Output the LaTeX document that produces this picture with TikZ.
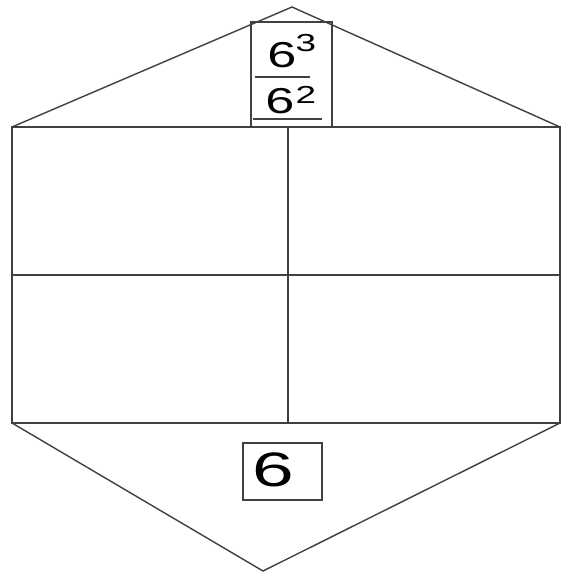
\documentclass[tikz,border=0pt]{standalone}
\usepackage{fontspec}
\setmainfont{Liberation Sans}
\begin{document}
\begin{tikzpicture}[x=0.02cm,y=-0.02cm,
  ln/.style={draw=black!75,line width=0.8pt},
  dig/.style={inner sep=0pt,font=\fontsize{20.5}{20.5}\selectfont},
  sup/.style={inner sep=0pt,font=\fontsize{14}{14}\selectfont},
  big/.style={inner sep=0pt,font=\fontsize{27.5}{27.5}\selectfont}]
\useasboundingbox (0,0) rectangle (571,575);
% outline
\coordinate (tl) at (12,127);
\coordinate (tr) at (560,127);
\coordinate (bl) at (12,423);
\coordinate (br) at (560,423);
\coordinate (top) at (292,7);
\coordinate (bot) at (263,571);
\coordinate (mt) at (288,127);
\coordinate (mb) at (288,423);
\coordinate (ml) at (12,275);
\coordinate (mr) at (560,275);
\draw[ln] (tl) -- (top) -- (tr);
\draw[ln] (bl) -- (bot) -- (br);
\draw[ln] (tl) rectangle (br);
\draw[ln] (mt) -- (mb);
\draw[ln] (ml) -- (mr);
% top box
\coordinate (b1) at (251,22);
\coordinate (b2) at (332,127);
\draw[ln] (b1) rectangle (b2);
\node[dig] (n1) at (282,55) {\scalebox{1.45}[1]{6}};
\node[sup] (s1) at (306,43) {\scalebox{1.5}[1]{3}};
\coordinate (f1) at (255,77);
\coordinate (f2) at (310,77);
\draw[ln,line width=1.3pt] (f1) -- (f2);
\node[dig] (n2) at (280,101) {\scalebox{1.45}[1]{6}};
\node[sup] (s2) at (306,95) {\scalebox{1.5}[1]{2}};
\coordinate (u1) at (253,119);
\coordinate (u2) at (322,119);
\draw[ln,line width=1.3pt] (u1) -- (u2);
% bottom box
\node[draw=black!75,line width=0.8pt,minimum width=79*0.02cm,minimum height=57*0.02cm,inner sep=0pt] (bb) at (282.5,471.5) {};
\node[big] (n3) at (273.5,469.5) {\scalebox{1.55}[1]{6}};
\end{tikzpicture}
\end{document}
